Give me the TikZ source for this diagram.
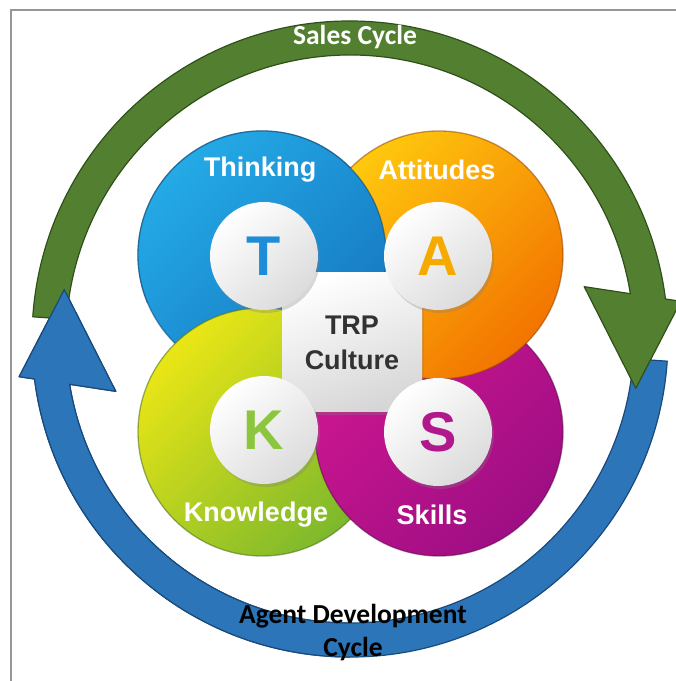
\documentclass[tikz,border=0pt]{standalone}
\usepackage{fontspec}
\setmainfont{Liberation Sans}
\newfontfamily\ringfont{Carlito}
\usetikzlibrary{shadows}

\definecolor{ringgreen}{RGB}{82,128,48}
\definecolor{ringgreenedge}{RGB}{48,80,26}
\definecolor{ringblue}{RGB}{44,117,184}
\definecolor{ringblueedge}{RGB}{26,74,124}
\definecolor{thinkA}{RGB}{36,170,230}
\definecolor{thinkB}{RGB}{22,120,194}
\definecolor{attA}{RGB}{255,200,14}
\definecolor{attB}{RGB}{242,116,0}
\definecolor{knowA}{RGB}{234,230,22}
\definecolor{knowB}{RGB}{124,184,44}
\definecolor{skillA}{RGB}{206,22,144}
\definecolor{skillB}{RGB}{158,14,132}
\definecolor{letT}{RGB}{30,140,214}
\definecolor{letA}{RGB}{246,170,0}
\definecolor{letK}{RGB}{140,198,62}
\definecolor{letS}{RGB}{176,24,140}
\definecolor{framegray}{RGB}{150,150,150}
\definecolor{culturetext}{RGB}{50,50,50}

\tikzset{
  bigdisc/.style={line width=1.3pt, draw opacity=0.55},
  lettercirc/.style={circle, minimum size=108pt, inner sep=0pt,
    top color=white, bottom color=black!14, shading angle=40,
    drop shadow={opacity=0.3, shadow xshift=2pt, shadow yshift=-3pt},
    font=\fontsize{56}{56}\selectfont\bfseries},
  lobelabel/.style={text=white, font=\fontsize{27}{30}\selectfont\bfseries, inner sep=0pt},
  ringlabel/.style={font=\ringfont\fontsize{27.5}{33}\selectfont\bfseries, inner sep=0pt, align=center},
  greenarrow/.style={fill=ringgreen, draw=ringgreenedge, line width=1.2pt, line join=round},
  bluearrow/.style={fill=ringblue, draw=ringblueedge, line width=1.2pt, line join=round}
}

\begin{document}
\begin{tikzpicture}[x=1pt,y=1pt]
\useasboundingbox (0,0) rectangle (676,681);
\fill[white] (0,0) rectangle (676,681);

% frame
\draw[framegray, line width=1.6pt] (11,0) -- (11,671) -- (676,671);

% cycle arrows around the centre
\coordinate (C) at (350,342);
\begin{scope}[shift={(C)}]
  % agent development cycle (blue), bottom half
  \path[bluearrow] (-4:284) -- (-4:318)
    arc[start angle=-4, end angle=-172.77, radius=318]
    -- (186.5:333) -- (170.2:290) -- (192.6:240) -- (189.18:284)
    arc[start angle=189.18, end angle=356, radius=284] -- cycle;
  % sales cycle (green), top half
  \path[greenarrow] (176:284) -- (176:318)
    arc[start angle=176, end angle=7.23, radius=318]
    -- (6.5:333) -- (-9.8:290) -- (12.6:240) -- (9.18:284)
    arc[start angle=9.18, end angle=176, radius=284] -- cycle;
  % blue head lies over the start of the green arrow
  \begin{scope}
    \clip (-400,-400) rectangle (0,400);
    \path[bluearrow] (-4:284) -- (-4:318)
      arc[start angle=-4, end angle=-172.77, radius=318]
      -- (186.5:333) -- (170.2:290) -- (192.6:240) -- (189.18:284)
      arc[start angle=189.18, end angle=356, radius=284] -- cycle;
  \end{scope}
\end{scope}

\node[ringlabel, text=white] (sales) at (355,644) {Sales Cycle};
\node[ringlabel, text=black] (agent) at (353,48) {Agent Development\\Cycle};

% four overlapping lobes
\path[bigdisc, top color=thinkA, bottom color=thinkB, shading angle=45, draw=thinkB!60!black]
  (262,426) circle[radius=124];
\path[bigdisc, top color=knowA, bottom color=knowB, shading angle=45, draw=knowB!60!black]
  (262,249) circle[radius=124];
\path[bigdisc, top color=skillA, bottom color=skillB, shading angle=45, draw=skillB!60!black]
  (439,249) circle[radius=124];
\path[bigdisc, top color=attA, bottom color=attB, shading angle=45, draw=attB!60!black]
  (439,426) circle[radius=124];
\begin{scope}
  \clip (100,378) rectangle (600,600);
  \path[bigdisc, top color=thinkA, bottom color=thinkB, shading angle=45, draw=thinkB!60!black]
    (262,426) circle[radius=124];
\end{scope}

% centre square
\node[minimum width=140pt, minimum height=139pt, inner sep=0pt,
  top color=white, bottom color=black!16, shading angle=20,
  drop shadow={opacity=0.3, shadow xshift=2pt, shadow yshift=-3pt},
  text=culturetext, align=center,
  font=\fontsize{27}{35}\selectfont\bfseries] (trp) at (352,338.5) {TRP\\Culture};

% letter discs
\node[lettercirc, text=letT] (T) at (264,425) {T};
\node[lettercirc, text=letA] (A) at (438,425) {A};
\node[lettercirc, text=letK] (K) at (264,251) {K};
\node[lettercirc, text=letS] (S) at (438,249) {S};

% lobe captions
\node[lobelabel] (thinking) at (260,511) {Thinking};
\node[lobelabel] (attitudes) at (437,511) {Attitudes};
\node[lobelabel] (knowledge) at (256,166) {Knowledge};
\node[lobelabel] (skills) at (432,166) {Skills};
\end{tikzpicture}
\end{document}
